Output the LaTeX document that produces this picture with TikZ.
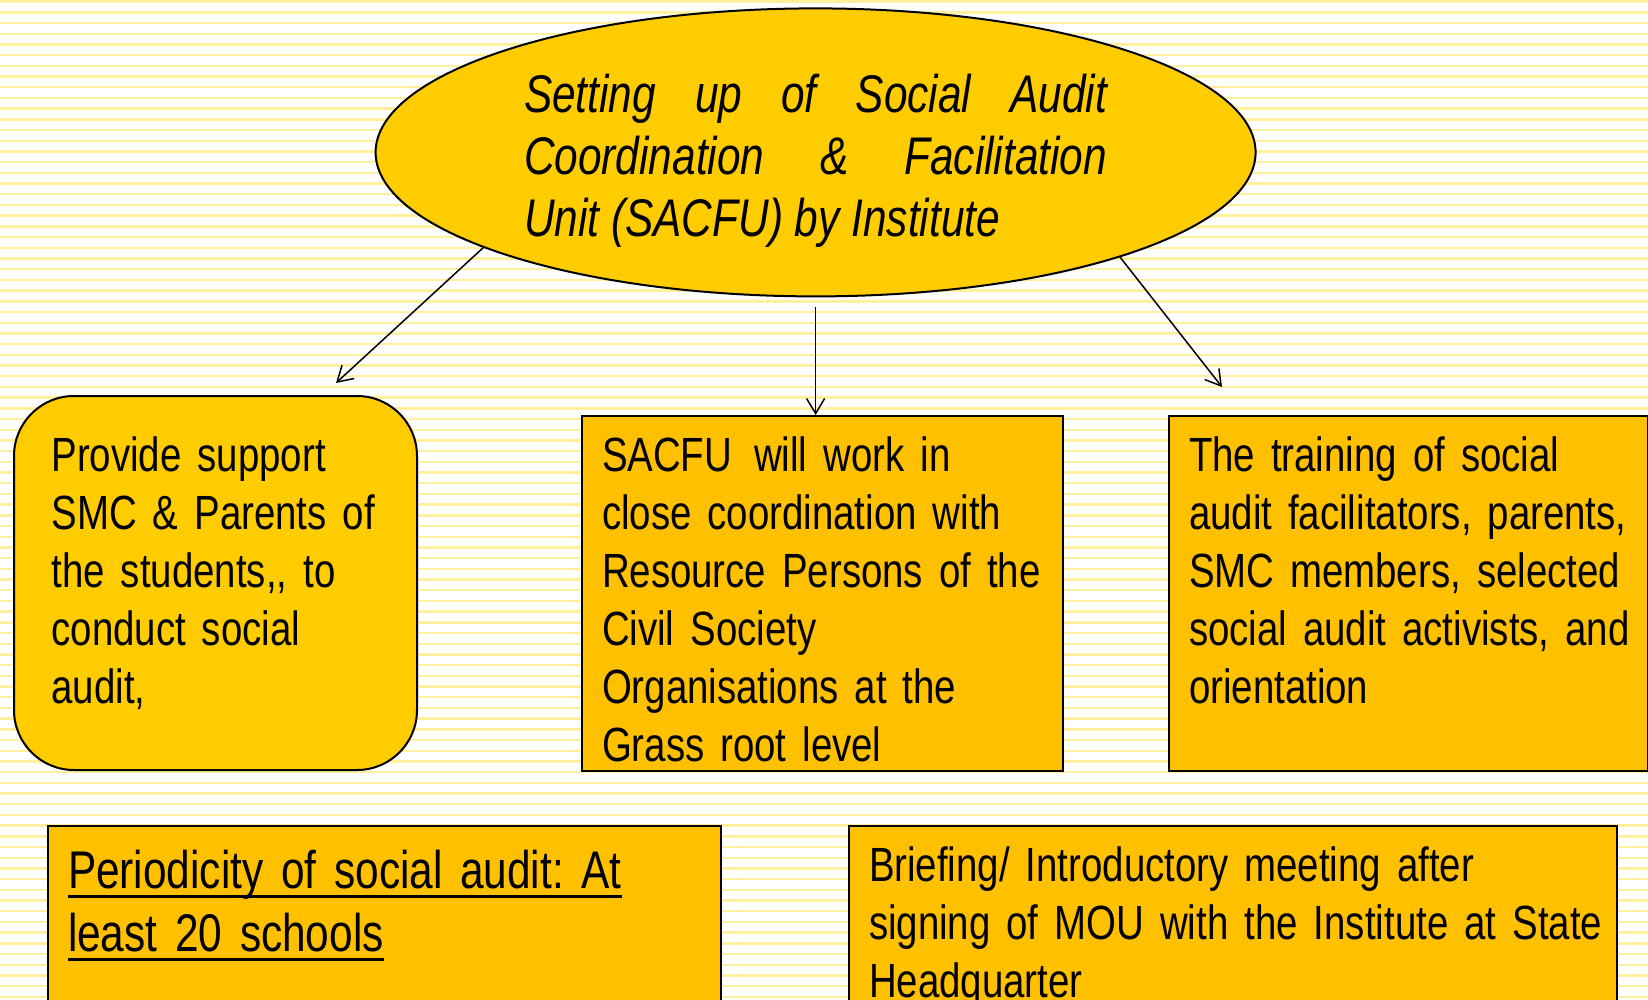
\documentclass[tikz,border=0pt]{standalone}
\usepackage{fontspec}
\usetikzlibrary{shapes.geometric,arrows.meta}
\newfontfamily\narrowsans[FakeStretch=0.8]{Liberation Sans}
\newcommand{\boxfont}[2]{\narrowsans\fontsize{#1}{#2}\selectfont\spaceskip=\dimexpr #1pt*222/1000\relax plus 2pt minus 1.5pt}
\newsavebox\undlbox
\newcommand{\undl}[1]{\leavevmode\sbox\undlbox{#1}\rlap{\rule[-4.8pt]{\wd\undlbox}{1.3pt}}\usebox\undlbox}
\tolerance=10000
\hbadness=10000
\hfuzz=20pt
\frenchspacing
\definecolor{sacfuyellow}{HTML}{FFCC00}
\definecolor{boxorange}{HTML}{FFC000}
\definecolor{stripeyellow}{HTML}{FFF0A0}
\tikzset{
  topic/.style={ellipse, draw, fill=sacfuyellow, minimum width=440pt, minimum height=144pt, inner sep=0pt},
  roundbox/.style={draw, fill=sacfuyellow, rounded corners=30pt, anchor=north west, align=left, inner ysep=0pt},
  plainbox/.style={draw, fill=boxorange, anchor=north west, align=left, inner xsep=10pt, inner ysep=0pt},
  link/.style={-{Straight Barb[length=7.5pt,width=9pt]}, line width=0.75pt},
  stripe/.style={draw=stripeyellow, line width=1.2pt}
}
\begin{document}
\begin{tikzpicture}[x=0.5pt,y=-0.5pt,line width=1pt]
\clip (0,0) rectangle (1648,1000);
\fill[white] (0,0) rectangle (1648,1000);
\foreach \k in {0,...,93}
  \draw[stripe] (0,{1.7+10.7*\k}) -- (1648,{1.7+10.7*\k});

% top unit
\node[topic, text width=291.5pt, align=justify, text height=28pt,
  font=\narrowsans\itshape\fontsize{26.5}{31}\selectfont] (topic) at (815.6,152.4)
  {Setting up of Social Audit\linebreak Coordination \& Facilitation\linebreak Unit (SACFU) by Institute};

% three tasks
\node[roundbox, inner xsep=18.75pt, text width=164pt, text height=37.5pt, text depth=149.5pt,
  font=\boxfont{24}{29}] (support) at (13,395)
  {Provide support\\SMC \& Parents of\\the students,, to\\conduct social\\audit,};
\node[plainbox, text width=220.5pt, text height=27.5pt, text depth=150pt,
  font=\boxfont{24}{29}] (work) at (581,415)
  {SACFU\hspace{11pt}will work in\\close coordination with\\Resource Persons of the\\Civil Society\\Organisations at the\\Grass root level};
\node[plainbox, text width=219.5pt, text height=27.5pt, text depth=150pt,
  font=\boxfont{24}{29}] (training) at (1168,415)
  {The training of social\\audit facilitators, parents,\\SMC members, selected\\\mbox{social audit activists, and}\\orientation};

% bottom row
\node[plainbox, text width=316.5pt, text height=31pt, text depth=120pt,
  font=\boxfont{26.5}{31.5}] (period) at (47,825)
  {\undl{Periodicity of social audit: At}\\\undl{least 20 schools}};
\node[plainbox, text width=364pt, text height=27.5pt, text depth=120pt,
  font=\boxfont{24}{29}] (brief) at (848,825)
  {Briefing/ Introductory meeting after\\\mbox{signing of MOU with the Institute at State}\\Headquarter};

% arrows
\coordinate (supporttip) at (336,383);
\coordinate (trainingtip) at (1222,387);
\draw[link] (topic.196.8) -- (supporttip);
\draw[link] ([yshift=-5pt]topic.south) -- (topic.south |- work.north);
\draw[link] (topic.341.2) -- (trainingtip);
\end{tikzpicture}
\end{document}
